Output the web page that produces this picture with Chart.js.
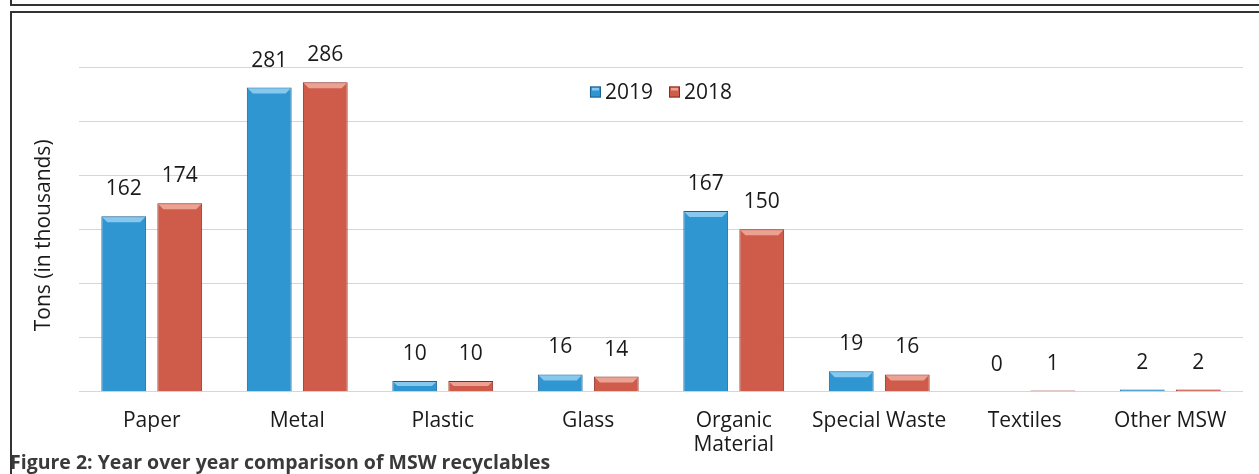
<!DOCTYPE html>
<html>
<head>
<meta charset="utf-8">
<script src="https://cdn.jsdelivr.net/npm/chart.js@4.4.1/dist/chart.umd.min.js"></script>
<style>
  html, body { margin: 0; padding: 0; background: #fff; }
  #wrap { position: relative; width: 1259px; height: 474px; overflow: hidden; }
  #chart { position: absolute; left: 0; top: 0; }
  .line { position: absolute; background: #333; }
  #caption {
    position: absolute; left: 10px; top: 448px;
    font-family: "Open Sans", sans-serif; font-weight: 700; font-size: 19.5px;
    color: #3a3a3a; white-space: nowrap;
  }
</style>
</head>
<body>
<div id="wrap">
  <canvas id="chart" width="1259" height="474"></canvas>
  <div class="line" style="left:10px;top:0;width:2px;height:6px"></div>
  <div class="line" style="left:10px;top:4px;width:1249px;height:2px"></div>
  <div class="line" style="left:10px;top:11px;width:1249px;height:2px"></div>
  <div class="line" style="left:10px;top:11px;width:2px;height:463px"></div>
  <div id="caption">Figure 2: Year over year comparison of MSW recyclables</div>
</div>
<script>
const categories = ["Paper", "Metal", "Plastic", "Glass", ["Organic", "Material"], "Special Waste", "Textiles", "Other MSW"];
const values2019 = [162, 281, 10, 16, 167, 19, 0, 2];
const values2018 = [174, 286, 10, 14, 150, 16, 1, 2];
const yTitle = "Tons (in thousands)";

const FONT = "'Open Sans', sans-serif";
const bevelColors = ["#86c8ee", "#eba292"];

// value labels, bevels, legend and y title
const decorPlugin = {
  id: "decor",
  afterDatasetsDraw(chart) {
    const ctx = chart.ctx;
    const area = chart.chartArea;
    ctx.save();
    chart.data.datasets.forEach((ds, di) => {
      chart.getDatasetMeta(di).data.forEach((bar, i) => {
        const left = bar.x - bar.width / 2, right = bar.x + bar.width / 2;
        const h = bar.base - bar.y;
        const b = Math.min(6, h / 2);
        if (h > 3) {
          ctx.fillStyle = bevelColors[di];
          ctx.beginPath();
          ctx.moveTo(left + 1, bar.y + 1);
          ctx.lineTo(right - 1, bar.y + 1);
          ctx.lineTo(right - b, bar.y + b);
          ctx.lineTo(left + b, bar.y + b);
          ctx.closePath();
          ctx.fill();
        }
        ctx.fillStyle = "#1a1a1a";
        ctx.font = "21px " + FONT;
        ctx.textAlign = "center";
        ctx.textBaseline = "middle";
        ctx.fillText(String(ds.data[i]), bar.x, bar.y - 27);
      });
    });

    // legend inside the plot
    ctx.font = "21px " + FONT;
    ctx.textBaseline = "middle";
    ctx.textAlign = "left";
    const ly = area.top + 25;
    const items = chart.data.datasets.map(ds => ({ label: ds.label, color: ds.backgroundColor, edge: ds.borderColor }));
    const box = 11, gap = 4, spacing = 16;
    let total = 0;
    items.forEach(it => { total += box + gap + ctx.measureText(it.label).width; });
    total += spacing * (items.length - 1);
    let lx = (area.left + area.right) / 2 - total / 2;
    items.forEach((it, k) => {
      ctx.fillStyle = it.color;
      ctx.fillRect(lx, ly - box / 2, box, box);
      ctx.fillStyle = bevelColors[k];
      ctx.fillRect(lx + 2, ly - box / 2 + 1, box - 4, 3);
      ctx.strokeStyle = it.edge;
      ctx.lineWidth = 1;
      ctx.strokeRect(lx + 0.5, ly - box / 2 + 0.5, box - 1, box - 1);
      ctx.fillStyle = "#1a1a1a";
      ctx.fillText(it.label, lx + box + gap, ly + 1);
      lx += box + gap + ctx.measureText(it.label).width + spacing;
    });

    // y axis title
    ctx.translate(44, (area.top + area.bottom) / 2 + 6);
    ctx.rotate(-Math.PI / 2);
    ctx.textAlign = "center";
    ctx.font = "21px " + FONT;
    ctx.fillText(yTitle, 0, 0);
    ctx.restore();
  }
};

new Chart(document.getElementById("chart"), {
  type: "bar",
  data: {
    labels: categories,
    datasets: [
      { label: "2019", data: values2019, backgroundColor: "#2f96d2", borderColor: "#1d5f92", borderWidth: 1 },
      { label: "2018", data: values2018, backgroundColor: "#cf5c4b", borderColor: "#8b2a22", borderWidth: 1 }
    ]
  },
  options: {
    responsive: false,
    animation: false,
    events: [],
    layout: { padding: { left: 79, right: 16, top: 67, bottom: 0 } },
    categoryPercentage: 0.77,
    barPercentage: 0.8,
    plugins: { legend: { display: false }, tooltip: { enabled: false } },
    scales: {
      x: {
        grid: { display: false, drawTicks: false },
        border: { display: false },
        ticks: { color: "#1a1a1a", padding: 17, font: { family: FONT, size: 21, lineHeight: 1.15 }, maxRotation: 0, autoSkip: false }
      },
      y: {
        min: 0, max: 300,
        ticks: { display: false, stepSize: 50 },
        grid: { color: "#d6d6d6", drawTicks: false },
        border: { display: false }
      }
    }
  },
  plugins: [decorPlugin]
});
</script>
</body>
</html>
